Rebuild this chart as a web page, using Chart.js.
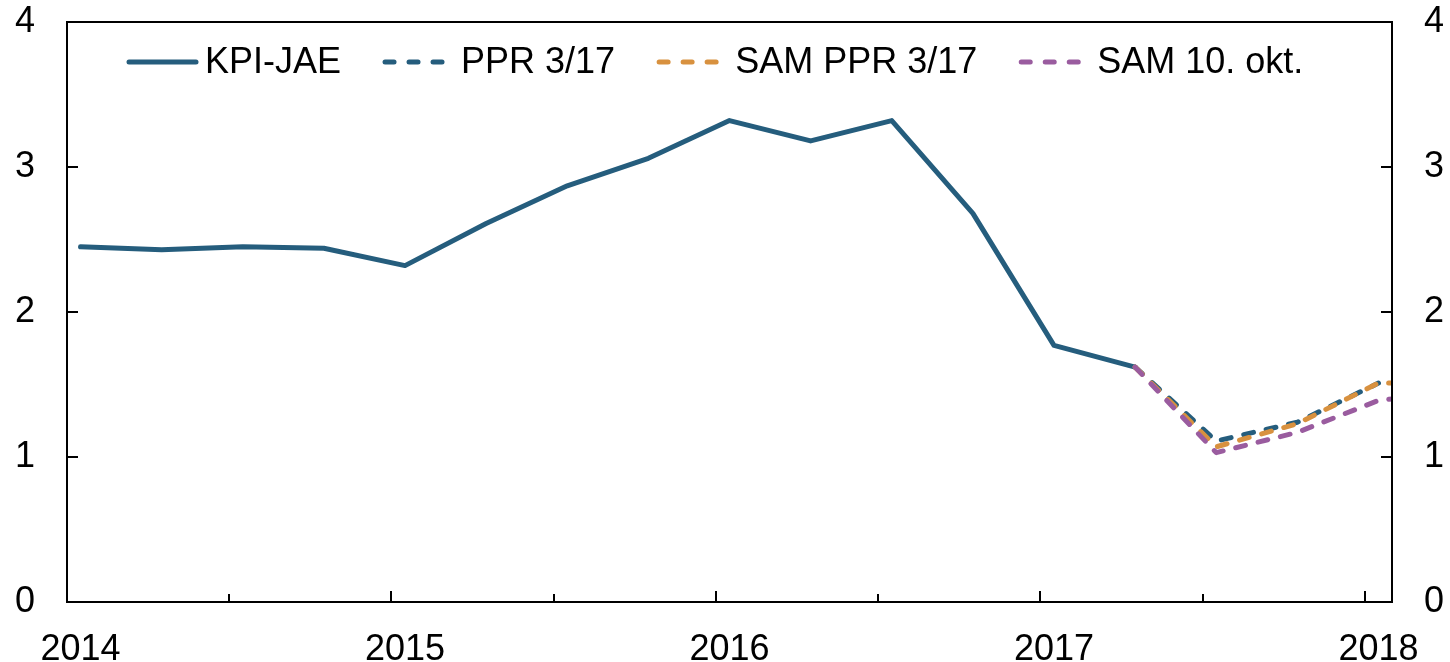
<!DOCTYPE html>
<html><head><meta charset="utf-8">
<script src="https://cdn.jsdelivr.net/npm/chart.js@4/dist/chart.umd.min.js"></script>
<style>html,body{margin:0;padding:0;background:#fff;overflow:hidden;}</style>
</head><body>
<canvas id="c" width="1450" height="662"></canvas>
<script>
// ---- data ----
const quarters = ['2014K1','2014K2','2014K3','2014K4','2015K1','2015K2','2015K3','2015K4',
                  '2016K1','2016K2','2016K3','2016K4','2017K1','2017K2','2017K3','2017K4','2018K1','2018K2'];
const yearLabels = ['2014','2015','2016','2017','2018'];
const kpiJae    = [2.45, 2.43, 2.45, 2.44, 2.32, 2.61, 2.87, 3.06, 3.32, 3.18, 3.32, 2.68, 1.77, 1.62];
const ppr317    = [1.62, 1.11, 1.24, 1.51];
const samPpr317 = [1.62, 1.07, 1.23, 1.51, 1.51];
const sam10okt  = [1.62, 1.03, 1.17, 1.39, 1.45];
const yTickValues = [0, 1, 2, 3, 4];

// months since Jan 2014; each quarter plotted in middle of its first month
const qx = i => 3 * i + 0.5;
const fcStart = kpiJae.length - 1;
const histPts = kpiJae.map((v, i) => ({x: qx(i), y: v}));
const fcPts = arr => arr.map((v, j) => ({x: qx(fcStart + j), y: v}));

const FONT = '"Liberation Sans", Arial, Helvetica, sans-serif';
Chart.defaults.font.family = FONT;
Chart.defaults.color = '#000';

const legendPlugin = {
  id: 'insideLegend',
  afterDraw(chart) {
    const ctx = chart.ctx, ca = chart.chartArea;
    ctx.save();
    ctx.font = '36px ' + FONT;
    const slot = 78, spacing = 42, y = 62;
    let x = ca.left + 60;
    chart.data.datasets.forEach(ds => {
      ctx.beginPath();
      ctx.lineWidth = ds.borderWidth;
      ctx.strokeStyle = ds.borderColor;
      ctx.lineCap = 'round';
      if (ds.borderDash) {
        ctx.setLineDash([9, 15]);
        ctx.moveTo(x + 2, y); ctx.lineTo(x + 59, y);
      } else {
        ctx.setLineDash([]);
        ctx.moveTo(x + 2, y); ctx.lineTo(x + 69, y);
      }
      ctx.stroke();
      ctx.setLineDash([]);
      ctx.fillStyle = '#000';
      ctx.textBaseline = 'middle';
      ctx.textAlign = 'left';
      ctx.fillText(ds.label, x + slot, y + 1);
      x += slot + ctx.measureText(ds.label).width + spacing;
    });
    ctx.restore();
  }
};

const framePlugin = {
  id: 'frameTicks',
  afterDatasetsDraw(chart) {
    const ctx = chart.ctx, ca = chart.chartArea;
    const xs = chart.scales.x, ys = chart.scales.y;
    ctx.save();
    ctx.strokeStyle = '#000';
    ctx.lineWidth = 2;
    ctx.lineCap = 'butt';
    ctx.strokeRect(ca.left, ca.top, ca.right - ca.left, ca.bottom - ca.top);
    ctx.beginPath();
    for (let m = 6; m < 49; m += 6) {
      const px = Math.round(xs.getPixelForValue(m));
      const len = (m % 12 === 0) ? 11 : 8;
      ctx.moveTo(px, ca.bottom); ctx.lineTo(px, ca.bottom - len);
    }
    yTickValues.slice(1, -1).forEach(v => {
      const py = Math.round(ys.getPixelForValue(v));
      ctx.moveTo(ca.left, py); ctx.lineTo(ca.left + 11, py);
      ctx.moveTo(ca.right, py); ctx.lineTo(ca.right - 11, py);
    });
    ctx.stroke();
    ctx.restore();
  }
};

const yAxis = (pos) => ({
  type: 'linear', position: pos, min: 0, max: 4,
  afterBuildTicks: s => { s.ticks = yTickValues.map(v => ({value: v})); },
  ticks: {font: {size: 36}, color: '#000', padding: 32},
  grid: {display: false, drawTicks: false},
  border: {display: false},
  afterFit: s => { s.width = 52; s.paddingTop = 0; s.paddingBottom = 0; }
});

const lineBase = {pointRadius: 0, tension: 0, borderWidth: 5, borderCapStyle: 'round', borderJoinStyle: 'round', yAxisID: 'y'};

new Chart(document.getElementById('c'), {
  type: 'line',
  data: {
    datasets: [
      {...lineBase, label: 'KPI-JAE', data: histPts, borderColor: '#255d7d', order: 4},
      {...lineBase, label: 'PPR 3/17', data: fcPts(ppr317), borderColor: '#255d7d', borderDash: [10, 13], order: 3},
      {...lineBase, label: 'SAM PPR 3/17', data: fcPts(samPpr317), borderColor: '#d8913f', borderDash: [10, 13], order: 2},
      {...lineBase, label: 'SAM 10. okt.', data: fcPts(sam10okt), borderColor: '#9a5c9f', borderDash: [10, 13], order: 1}
    ]
  },
  options: {
    responsive: false,
    animation: false,
    devicePixelRatio: 1,
    layout: {padding: {left: 15, right: 6, top: 22, bottom: 0}},
    plugins: {legend: {display: false}, tooltip: {enabled: false}},
    scales: {
      x: {
        type: 'linear', position: 'bottom', min: 0, max: 49,
        afterBuildTicks: s => { s.ticks = yearLabels.map((y, k) => ({value: 12 * k + 0.5})); },
        ticks: {font: {size: 36}, color: '#000', padding: 26, maxRotation: 0, autoSkip: false,
                callback: v => yearLabels[Math.round((v - 0.5) / 12)]},
        grid: {display: false, drawTicks: false},
        border: {display: false},
        afterFit: s => { s.height = 60; s.paddingLeft = 0; s.paddingRight = 0; }
      },
      y: yAxis('left'),
      y2: yAxis('right')
    }
  },
  plugins: [framePlugin, legendPlugin]
});
</script>
</body></html>
